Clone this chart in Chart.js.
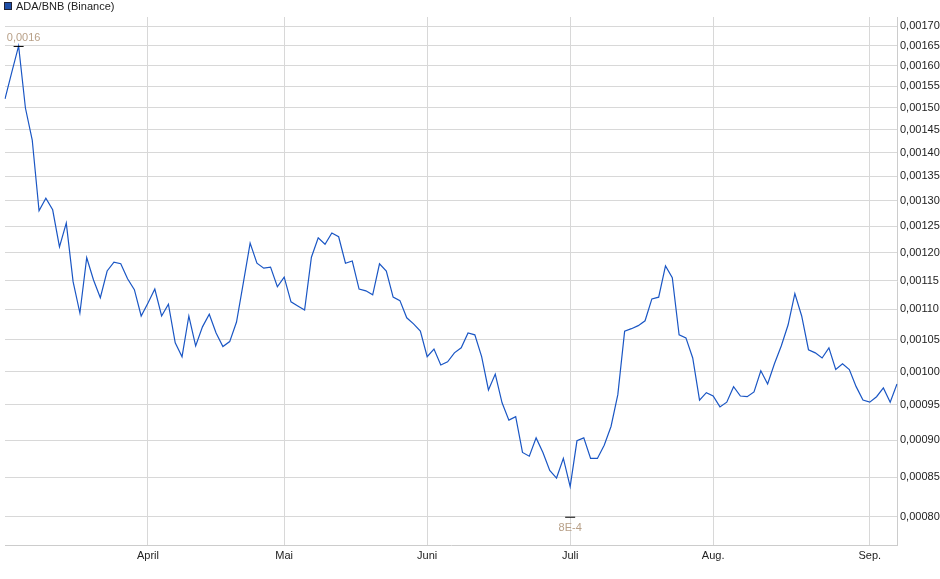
<!DOCTYPE html>
<html>
<head>
<meta charset="utf-8">
<script src="https://cdn.jsdelivr.net/npm/chart.js@4"></script>
<style>
  body { margin: 0; background: #fff; }
  #wrap { width: 940px; height: 579px; }
</style>
</head>
<body>
<div id="wrap"><canvas id="myChart" width="940" height="579"></canvas></div>
<script>
"use strict";

// Daily closes ADA/BNB (trading days)
const prices = [
  0.001520, 0.001584, 0.001649, 0.001499, 0.001427, 0.001280, 0.001305, 0.001282, 0.001211, 0.001256,
  0.001148, 0.001094, 0.001191, 0.001151, 0.001120, 0.001167, 0.001183, 0.001180, 0.001153, 0.001134,
  0.001089, 0.001111, 0.001135, 0.001089, 0.001109, 0.001045, 0.001023, 0.001089, 0.001040, 0.001071,
  0.001092, 0.001061, 0.001039, 0.001047, 0.001079, 0.001146, 0.001218, 0.001181, 0.001172, 0.001174,
  0.001139, 0.001156, 0.001113, 0.001106, 0.001099, 0.001192, 0.001228, 0.001216, 0.001237, 0.001230,
  0.001181, 0.001185, 0.001135, 0.001132, 0.001125, 0.001180, 0.001167, 0.001121, 0.001115, 0.001086,
  0.001076, 0.001064, 0.001023, 0.001035, 0.001010, 0.001015, 0.001029, 0.001037, 0.001061, 0.001058,
  0.001023, 0.000972, 0.000996, 0.000953, 0.000928, 0.000933, 0.000883, 0.000878, 0.000903, 0.000883,
  0.000859, 0.000849, 0.000875, 0.000838, 0.000899, 0.000903, 0.000875, 0.000875, 0.000893, 0.000919,
  0.000965, 0.001064, 0.001068, 0.001073, 0.001081, 0.001118, 0.001121, 0.001176, 0.001155, 0.001058,
  0.001053, 0.001021, 0.000957, 0.000968, 0.000963, 0.000947, 0.000954, 0.000977, 0.000963, 0.000962,
  0.000969, 0.001001, 0.000981, 0.001012, 0.001040, 0.001074, 0.001127, 0.001089, 0.001034, 0.001029,
  0.001021, 0.001037, 0.001003, 0.001012, 0.001003, 0.000977, 0.000957, 0.000954, 0.000962, 0.000975,
  0.000954, 0.000981
];

// month labels sit on the first trading day of each month
const monthNames = ["April", "Mai", "Juni", "Juli", "Aug.", "Sep."];
const monthIndex = [21, 41, 62, 83, 104, 127];

const yTicks = [0.00080, 0.00085, 0.00090, 0.00095, 0.00100, 0.00105, 0.00110, 0.00115,
                0.00120, 0.00125, 0.00130, 0.00135, 0.00140, 0.00145, 0.00150, 0.00155,
                0.00160, 0.00165, 0.00170];

const seriesName = "ADA/BNB (Binance)";
const maxLabel = "0,0016";
const minLabel = "8E-4";
const minMarkValue = 0.0008;

let labels = prices.map((p, i) => {
  let k = monthIndex.indexOf(i);
  return k >= 0 ? monthNames[k] : "";
});

// legend + high/low markers
const extras = {
  id: "extras",
  afterDraw(chart) {
    const ctx = chart.ctx;
    const xs = chart.scales.x, ys = chart.scales.y;
    ctx.save();
    ctx.fillStyle = "#1f4fa8";
    ctx.strokeStyle = "#223";
    ctx.fillRect(4, 2, 8, 8);
    ctx.lineWidth = 1;
    ctx.strokeRect(4.5, 2.5, 7, 7);
    ctx.fillStyle = "#222";
    ctx.font = "11px 'Liberation Sans', Arial, sans-serif";
    ctx.textBaseline = "middle";
    ctx.fillText(seriesName, 16, 6.5);

    let hi = prices.indexOf(Math.max(...prices));
    let lo = prices.indexOf(Math.min(...prices));
    ctx.strokeStyle = "#000";
    let hx = xs.getPixelForValue(hi), hy = ys.getPixelForValue(prices[hi]);
    ctx.beginPath(); ctx.moveTo(hx - 5, hy + 0.5); ctx.lineTo(hx + 5, hy + 0.5); ctx.stroke();
    let lx = xs.getPixelForValue(lo), ly = ys.getPixelForValue(minMarkValue);
    ctx.beginPath(); ctx.moveTo(lx - 5, ly + 0.5); ctx.lineTo(lx + 5, ly + 0.5); ctx.stroke();
    ctx.fillStyle = "#b8a088";
    ctx.textAlign = "center";
    ctx.fillText(maxLabel, hx + 5, hy - 8);
    ctx.fillText(minLabel, lx, ly + 11);
    ctx.restore();
  }
};

const config = {
  type: "line",
  data: {
    labels: labels,
    datasets: [{
      data: prices,
      borderColor: "#1a56c4",
      borderWidth: 1.2,
      pointRadius: 0,
      tension: 0,
      fill: false
    }]
  },
  options: {
    responsive: false,
    animation: false,
    layout: { padding: { top: 17, left: 5, bottom: 13, right: 0 } },
    plugins: { legend: { display: false }, tooltip: { enabled: false } },
    scales: {
      x: {
        type: "category",
        offset: false,
        border: { color: "#ccc" },
        grid: {
          color: (c) => (c.tick && c.tick.label) ? "#d8d8d8" : "rgba(0,0,0,0)",
          drawTicks: false
        },
        ticks: {
          autoSkip: false, maxRotation: 0, padding: 4,
          color: "#222",
          font: { size: 11, family: "'Liberation Sans', Arial, sans-serif" }
        },
        afterFit: (s) => { s.height = 21; }
      },
      y: {
        type: "logarithmic",
        position: "right",
        min: 0.000766,
        max: 0.001724,
        border: { color: "#ccc" },
        grid: { color: "#d8d8d8", drawTicks: false },
        afterBuildTicks: (s) => { s.ticks = yTicks.map(v => ({ value: v })); },
        ticks: {
          padding: 3,
          color: "#222",
          font: { size: 11, family: "'Liberation Sans', Arial, sans-serif" },
          callback: (v) => v.toFixed(5).replace(".", ",")
        },
        afterFit: (s) => { s.width = 43; }
      }
    }
  },
  plugins: [extras]
};

new Chart(document.getElementById("myChart"), config);
</script>
</body>
</html>
